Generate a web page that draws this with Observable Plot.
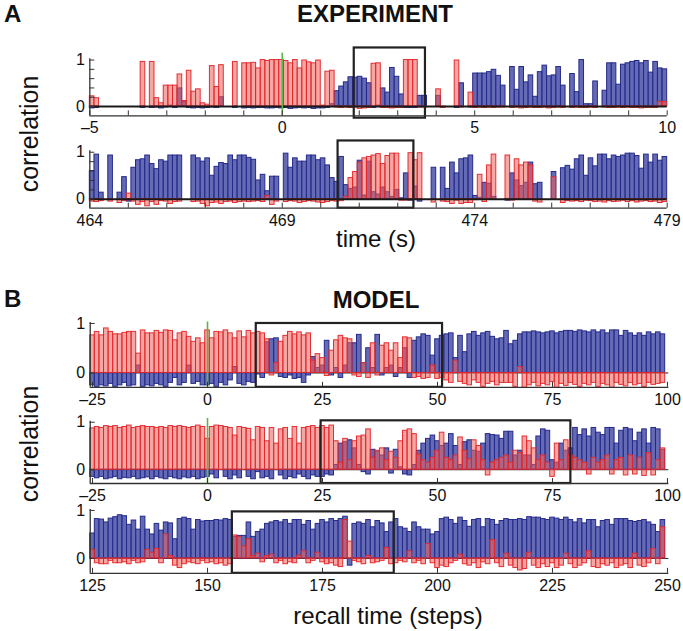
<!DOCTYPE html>
<html><head><meta charset="utf-8">
<script src="https://cdn.jsdelivr.net/npm/d3@7"></script>
<script src="https://cdn.jsdelivr.net/npm/@observablehq/plot@0.6"></script>
<style>
body{margin:0;background:#fff;}
#fig{position:relative;width:683px;height:631px;font-family:"Liberation Sans",Arial,sans-serif;overflow:hidden;background:#fff;}
#fig svg{position:absolute;left:0;}
.lbl{position:absolute;white-space:nowrap;color:#111;line-height:1;}
</style></head><body><div id="fig"></div>
<script>
// ---------- DATA ----------
// Experiment, top row: time -5..10 s, bins of 0.12 s (null = empty bin)
const expTopRed = [
 .22,.18,null,null,null,null,null,null,null,null,
 null,.96,null,.96,.18,.07,.45,.45,.45,.69,
 .12,.77,.32,.37,.07,.04,.87,.42,.89,null,
 null,.96,null,.93,.93,.94,.82,1.0,.98,1.0,
 1.0,1.0,.98,.93,1.0,.82,.99,.95,.93,.99,
 .02,.75,.77,-.02,-.03,-.02,-.03,-.02,-.05,-.04,
 -.03,.92,.93,-.03,-.03,-.04,-.03,-.03,1.0,1.0,
 1.0,-.02,-.02,null,null,.37,-.03,null,null,.99,
 -.02,null,.3,-.03,-.02,-.03,-.02,-.03,-.02,-.02,
 null,-.03,-.02,-.04,-.03,-.02,-.03,-.03,-.02,-.04,
 -.03,-.02,-.03,null,-.03,-.02,-.03,-.03,-.02,-.03,
 null,-.02,-.03,-.03,-.02,-.03,-.02,-.03,-.03,-.04,
 -.03,-.03,-.03,.1,.1];
const expTopBlue = [
 -.04,-.03,null,null,null,null,null,null,null,null,
 null,-.03,null,-.03,-.02,-.04,-.02,.02,-.03,.39,
 .1,-.03,-.04,-.03,-.04,-.03,-.02,-.03,.2,null,
 null,-.03,null,-.04,-.03,-.04,-.03,-.03,-.04,-.04,
 -.03,-.04,-.03,-.05,-.04,-.03,-.04,-.03,-.05,-.04,
 -.04,-.03,.05,.33,.43,.52,.63,.62,.64,.6,
 .5,-.03,.02,.39,.3,.83,.64,.26,-.03,-.03,
 -.03,.23,.23,null,null,.23,null,null,null,-.03,
 .5,null,-.02,.71,.71,.71,.74,.79,.66,.45,
 null,.85,.36,.85,.52,.67,.21,.74,.88,.65,
 .67,.85,.45,null,.7,.31,1.0,.05,.05,.54,
 null,.34,.93,.93,.47,.9,.93,.96,.98,.93,
 .98,.73,.96,.82,.8];
// Experiment, bottom row: time 464..479 s, bins of 0.12 s
const expBotRed = [
 -.05,-.06,-.04,null,-.05,null,-.08,-.04,.12,-.05,
 -.12,-.06,-.15,-.06,-.12,-.04,-.05,-.1,-.06,-.05,
 null,null,-.06,-.05,-.1,-.15,-.08,-.07,-.1,-.06,
 -.05,-.08,-.06,-.05,-.06,-.05,-.04,-.06,.07,-.12,
 -.05,null,-.06,-.04,-.05,-.08,-.06,-.04,-.05,-.07,
 -.08,-.06,-.04,-.05,-.04,.05,.45,.58,.78,.87,
 .9,.93,.96,.75,.92,.97,.97,-.03,-.03,.98,
 .83,.98,null,null,-.07,null,-.05,-.06,-.1,-.03,
 -.1,-.08,-.08,-.02,.52,-.06,.72,.95,null,null,
 .93,-.03,.85,.72,.78,.72,-.05,-.07,null,null,
 .47,null,-.08,-.04,-.05,-.04,-.06,-.03,-.04,-.06,
 -.05,-.07,-.04,-.06,-.05,-.03,-.06,-.04,-.07,-.05,
 -.04,-.06,-.05,-.08,-.06];
const expBotBlue = [
 .6,.95,.14,null,.93,null,.14,.47,-.05,.67,
 .83,.85,.93,.75,.64,.83,.8,.93,.93,.93,
 null,null,.93,.87,.8,.87,.5,.69,.77,.75,
 .93,.83,.93,.93,.88,.84,.4,.52,.17,.48,
 .48,null,.97,.67,.87,.8,.8,.93,.93,.83,
 .87,.72,.45,.37,.9,.3,.22,.25,.82,.08,
 .8,.15,.1,.25,.15,.05,.2,.02,.55,-.03,
 .27,-.05,null,null,.67,null,.67,.22,.78,.55,
 .85,.87,.93,.07,.03,.35,.33,.05,null,null,
 -.03,.55,.4,.28,.35,.78,.32,.35,null,null,
 .58,null,.66,.71,.63,.85,.93,.5,.87,.7,
 .95,.95,.85,.93,.9,.93,.97,.97,.92,.65,
 .95,.78,.95,.82,.9];
// Model, row 1: steps -25..99
const modR1Red = [
 .76,.83,.76,.9,.83,.78,.78,.81,.83,.83,
 .39,.86,.8,.8,.85,.81,.86,.85,.66,.8,
 .83,.73,.63,.7,.6,.86,.7,.83,.82,.86,
 .8,.7,.84,.72,.85,.8,.83,.8,.68,-.05,
 .2,.63,.75,.83,.78,.82,.76,.8,.25,.38,
 .3,-.06,.45,.66,.75,.7,.68,-.05,-.08,.2,
 -.1,.6,-.05,.55,.6,.45,.6,.3,.72,.7,
 -.1,-.08,-.12,-.1,.15,-.12,-.1,-.15,-.2,.25,
 -.18,-.22,-.25,-.15,-.2,-.28,-.22,-.18,-.25,-.2,
 -.2,-.2,-.28,.12,-.3,-.25,-.2,-.27,-.22,-.25,
 -.18,-.3,-.22,-.26,-.2,-.24,-.28,-.22,-.25,-.2,
 -.28,-.22,-.25,-.3,-.2,-.24,-.27,-.2,-.25,-.22,
 -.28,-.2,-.24,-.22,-.2];
const modR1Blue = [
 -.25,-.28,-.25,-.27,-.22,-.28,-.25,-.2,-.27,-.25,
 .15,-.28,-.25,-.27,-.22,-.25,-.28,-.2,-.1,-.25,
 -.2,.15,-.22,-.18,-.25,-.25,-.22,-.28,-.2,-.25,
 -.15,.12,-.22,-.25,-.18,-.2,-.03,-.1,.62,.68,
 .7,-.08,-.1,-.05,-.12,-.1,-.2,-.05,.32,.1,
 .15,.65,-.05,.1,-.1,.15,.6,.6,.77,.2,
 .5,.1,.77,-.05,.1,.15,-.08,.1,.5,-.1,
 .65,.72,.78,.75,.35,.68,.75,.78,.8,.3,
 .75,.42,.78,.83,.75,.8,.83,.73,.68,.7,
 .85,.58,.65,.78,.82,.82,.84,.82,.8,.82,
 .84,.8,.83,.85,.85,.83,.86,.84,.82,.86,
 .82,.86,.8,.86,.86,.75,.85,.8,.75,.8,
 .75,.82,.78,.82,.78];
// Model, row 2: steps -25..99
const modR2Red = [
 .87,.9,.88,.92,.9,.92,.88,.9,.93,.88,
 .9,.92,.9,.9,.88,.9,.88,.92,.9,.92,
 .9,.88,.9,.93,.9,.65,.9,.93,.92,.9,
 .88,.72,.9,.88,.86,.62,.9,.88,.6,.88,
 .55,.85,.88,.65,.9,.55,.88,.9,.92,.88,
 .92,.88,.93,.6,.15,.65,.2,.6,.7,.72,
 .85,.25,.4,.45,.2,.38,.25,.6,.82,.85,
 .75,.32,.2,.15,.25,.4,.78,.25,.2,.3,
 .68,.4,.22,.62,.5,.2,-.12,.15,.2,.25,
 .3,.15,.4,.35,.7,.6,.45,.2,.3,.15,
 -.15,.55,.2,.62,.3,.25,.2,.15,-.1,.25,
 .15,.2,.3,-.1,.2,.25,-.12,.3,-.1,.25,
 -.13,.35,-.12,.2,.45];
const modR2Blue = [
 -.15,-.18,-.15,-.2,-.18,-.15,-.2,-.17,-.18,-.15,
 -.2,-.18,-.16,-.2,-.15,-.18,-.2,-.15,-.18,-.2,
 -.16,-.18,-.15,-.2,-.17,-.15,-.1,-.18,null,-.15,
 -.2,-.12,-.18,null,-.15,-.2,-.05,-.18,-.15,-.2,
 null,-.12,-.2,-.15,-.18,-.1,-.15,-.2,-.12,-.15,
 -.15,-.1,-.12,.1,.55,.58,.62,.45,.1,-.05,
 -.1,.42,.38,.3,.45,-.08,.42,.05,-.1,-.12,
 .1,.4,.55,.65,.72,.6,.5,.55,.75,.5,
 .1,.58,.62,.4,.38,.55,.75,.73,.72,.65,
 .8,.8,.3,.4,.3,.3,.1,.7,.85,.82,
 .2,.15,.55,.4,.45,.88,.73,.85,.7,.88,
 .78,.73,.88,.88,.55,.82,.88,.85,.6,.78,
 .85,.55,.88,.85,.42];
// Model, row 3: steps 125..249
const modR3Red = [
 .18,-.1,-.12,-.12,-.05,-.1,-.1,-.08,-.12,-.05,
 -.1,-.08,.18,.12,.2,-.1,.5,.05,-.15,-.2,
 -.12,-.08,-.1,-.12,-.05,-.1,-.08,-.12,-.1,-.15,
 -.12,.48,.45,.25,.4,.05,.1,-.08,.05,.08,
 -.1,-.05,-.12,-.08,-.1,.06,.15,-.1,-.05,.12,
 -.08,-.12,-.1,-.15,-.18,.8,.35,-.05,-.08,-.12,
 .05,-.1,-.08,-.05,.22,-.12,-.1,-.05,-.08,.15,
 -.1,-.05,-.12,.3,-.1,-.2,-.15,-.18,-.1,-.05,
 .08,-.12,-.15,-.1,-.2,-.08,-.12,.38,-.1,-.18,
 .1,-.15,-.2,-.25,-.22,.12,-.15,-.2,-.12,-.18,
 -.1,-.2,-.15,.1,-.12,-.2,-.15,-.1,.15,-.18,
 -.2,-.12,-.15,-.1,-.2,-.15,-.12,-.2,.1,-.15,
 -.18,-.1,.2,-.12,.65];
const modR3Blue = [
 .52,.82,.81,.75,.83,.86,.9,.88,.7,.79,
 .6,.87,.6,.5,.72,.58,.75,.73,.4,.82,
 .85,.82,.6,.8,.77,.78,.78,.8,.79,.82,
 .8,.45,.47,.47,.75,.45,.55,.6,.72,.75,
 .78,.75,.8,.72,.8,.8,.7,.78,.6,.72,
 .8,.75,.82,.78,.82,.87,-.15,.72,.75,.72,
 .8,.65,.78,.73,.55,.75,.82,.65,.62,.55,
 .75,.65,.6,.6,.5,.55,.82,.85,.8,.72,
 .85,.78,.66,.8,.82,.65,.82,.8,.7,.78,
 .82,.8,.8,.82,.8,.86,.85,.85,.82,.8,
 .85,.83,.8,.85,.8,.75,.82,.73,.8,.8,
 .65,.78,.8,.7,.82,.82,.82,.78,.76,.78,
 .8,.75,.7,.55,.8];
// tick labels
const expTopTicks = [-5, 0, 5, 10];
const expBotTicks = [464, 469, 474, 479];
const modR12Ticks = [-25, 0, 25, 50, 75, 100];
const modR3Ticks = [125, 150, 175, 200, 225, 250];
const corrTicks = [0, 1];
// highlighted windows (black boxes)
const boxExpTop = {x1: 1.87, x2: 3.72, y1: -0.25, y2: 1.26};
const boxExpBot = {x1: 470.45, x2: 472.42, y1: -0.19, y2: 1.24};
const boxModR1 = {x1: 10.6, x2: 51.1, y1: -0.29, y2: 1.0};
const boxModR2 = {x1: 24.7, x2: 79.0, y1: -0.29, y2: 1.03};
const boxModR3 = {x1: 155.4, x2: 190.6, y1: -0.31, y2: 0.97};

// ---------- DRAWING ----------
const fig = document.getElementById("fig");
const RED_FILL = "#ee5e5a", RED_STROKE = "#e3262a";
const BLUE_FILL = "#4a50a8", BLUE_STROKE = "#242a8a";
const FONT = '"Liberation Sans", Arial, sans-serif';
const fmtTick = d => String(d).replace("-", "\u2013");

function drawPanel(p) {
  const mt = 6, mb = 28;
  const innerTop = p.zeroPx - p.yMax * p.ppu;
  const innerH = (p.yMax - p.yMin) * p.ppu;
  const height = mt + innerH + mb;
  const xppu = (p.xRange[1] - p.xRange[0]) / (p.xDomain[1] - p.xDomain[0]);
  const tlY = 5 / p.ppu, tlX = 5 / xppu;
  const bars = arr => arr.map((v, i) => v == null ? null :
      ({x1: p.edge0 + i * p.dx, x2: p.edge0 + (i + 1) * p.dx, v})).filter(Boolean);
  const x0 = p.xDomain[0];
  const marks = [];
  if (!p.thickZero) marks.push(Plot.ruleY([0], {x1: () => x0, x2: () => p.xAxisEnd, stroke: "#222", strokeWidth: 1}));
  marks.push(Plot.rect(bars(p.blue), {x1: "x1", x2: "x2", y1: () => 0, y2: "v",
      fill: BLUE_FILL, fillOpacity: 0.85, stroke: BLUE_STROKE, strokeWidth: 1}));
  marks.push(Plot.rect(bars(p.red), {x1: "x1", x2: "x2", y1: () => 0, y2: "v",
      fill: RED_FILL, fillOpacity: 0.55, stroke: RED_STROKE, strokeWidth: 1, strokeOpacity: 0.95}));
  if (p.thickZero) marks.push(Plot.ruleY([0], {x1: () => x0, x2: () => p.xAxisEnd, stroke: "#1a1a1a", strokeWidth: 2}));
  if (p.greenTop != null) marks.push(Plot.ruleX([0], {y1: () => p.yMin, y2: () => p.greenTop, stroke: "#5cb646", strokeWidth: 1.6}));
  marks.push(Plot.rect([p.box], {x1: "x1", x2: "x2", y1: "y1", y2: "y2", fill: "none", stroke: "#222", strokeWidth: 2.2}));
  // axis lines and inward ticks
  marks.push(Plot.ruleY([p.yMin], {x1: () => x0, x2: () => p.xAxisEnd, stroke: "#333", strokeWidth: 1.3}));
  marks.push(Plot.ruleX([x0], {y1: () => p.yMin, y2: () => p.yAxisTop, stroke: "#333", strokeWidth: 1.3}));
  marks.push(Plot.ruleX(p.xMinor, {x: d => d, y1: () => p.yMin, y2: () => p.yMin + tlY, stroke: "#333", strokeWidth: 1}));
  marks.push(Plot.ruleY(p.yMinor, {y: d => d, x1: () => x0, x2: () => x0 + tlX, stroke: "#333", strokeWidth: 1}));
  marks.push(Plot.axisX({ticks: p.xTicks, tickSize: 0, tickPadding: 6, label: null, fontSize: 16, tickFormat: fmtTick}));
  marks.push(Plot.axisY({ticks: corrTicks, tickSize: 0, tickPadding: 5, label: null, fontSize: 16, tickFormat: fmtTick}));
  const svg = Plot.plot({
    width: 683, height,
    marginTop: mt, marginBottom: mb,
    marginLeft: p.xRange[0], marginRight: 683 - p.xRange[1],
    x: {domain: p.xDomain},
    y: {domain: [p.yMin, p.yMax]},
    style: {fontFamily: FONT, fontSize: "16px", color: "#111", background: "transparent", overflow: "visible"},
    marks
  });
  svg.style.top = (innerTop - mt) + "px";
  fig.appendChild(svg);
}

const aMinorX = d3.range(-5, 10.001, 1);
const aMinorY = [0, .2, .4, .6, .8, 1];

drawPanel({red: expTopRed, blue: expTopBlue, edge0: -5, dx: 0.12,
  xDomain: [-5, 10], xRange: [89.3, 666.7], xAxisEnd: 10, xTicks: expTopTicks, xMinor: aMinorX,
  yMinor: aMinorY, zeroPx: 106.5, ppu: 46.5, yMin: -0.2, yMax: 1.27, yAxisTop: 1.03,
  thickZero: true, greenTop: 1.15, box: boxExpTop});

drawPanel({red: expBotRed, blue: expBotBlue, edge0: 464, dx: 0.12,
  xDomain: [464, 479], xRange: [89.3, 666.7], xAxisEnd: 479, xTicks: expBotTicks, xMinor: aMinorX.map(d => d + 469),
  yMinor: aMinorY, zeroPx: 199, ppu: 47, yMin: -0.19, yMax: 1.25, yAxisTop: 1.03,
  thickZero: true, greenTop: null, box: boxExpBot});

drawPanel({red: modR1Red, blue: modR1Blue, edge0: -25.5, dx: 1,
  xDomain: [-25.5, 100.5], xRange: [89.7, 669.3], xAxisEnd: 100.3, xTicks: modR12Ticks, xMinor: modR12Ticks,
  yMinor: [0, 1], zeroPx: 372.5, ppu: 49.5, yMin: -0.29, yMax: 1.04, yAxisTop: 1.02,
  thickZero: false, greenTop: 1.03, box: boxModR1});

drawPanel({red: modR2Red, blue: modR2Blue, edge0: -25.5, dx: 1,
  xDomain: [-25.5, 100.5], xRange: [89.7, 669.3], xAxisEnd: 100.3, xTicks: modR12Ticks, xMinor: modR12Ticks,
  yMinor: [0, 1], zeroPx: 469, ppu: 47.5, yMin: -0.29, yMax: 1.1, yAxisTop: 1.02,
  thickZero: false, greenTop: 1.08, box: boxModR2});

drawPanel({red: modR3Red, blue: modR3Blue, edge0: 124.5, dx: 1,
  xDomain: [124.5, 250.5], xRange: [89.7, 669.3], xAxisEnd: 250.3, xTicks: modR3Ticks, xMinor: modR3Ticks,
  yMinor: [0, 1], zeroPx: 558, ppu: 48, yMin: -0.31, yMax: 1.02, yAxisTop: 1.02,
  thickZero: false, greenTop: null, box: boxModR3});

// ---------- TEXT ----------
function label(text, {x, baseline, size, bold = false, anchor = "start", rotate = false, cy}) {
  const d = document.createElement("div");
  d.className = "lbl";
  d.textContent = text;
  d.style.fontSize = size + "px";
  d.style.fontWeight = bold ? "bold" : "normal";
  if (rotate) {
    d.style.left = x + "px";
    d.style.top = cy + "px";
    d.style.transform = "translate(-50%,-50%) rotate(-90deg)";
  } else {
    d.style.top = (baseline - 0.847 * size) + "px";
    if (anchor === "middle") { d.style.left = x + "px"; d.style.transform = "translateX(-50%)"; }
    else d.style.left = x + "px";
  }
  fig.appendChild(d);
}
label("A", {x: 4, baseline: 22, size: 24, bold: true});
label("EXPERIMENT", {x: 375, baseline: 22, size: 24, bold: true, anchor: "middle"});
label("correlation", {x: 29, cy: 134, size: 25, rotate: true});
label("time (s)", {x: 376, baseline: 247, size: 24, anchor: "middle"});
label("B", {x: 4, baseline: 307, size: 24, bold: true});
label("MODEL", {x: 376, baseline: 308, size: 24, bold: true, anchor: "middle"});
label("correlation", {x: 29, cy: 444, size: 25, rotate: true});
label("recall time (steps)", {x: 388, baseline: 624, size: 24, anchor: "middle"});
</script>
</body></html>
